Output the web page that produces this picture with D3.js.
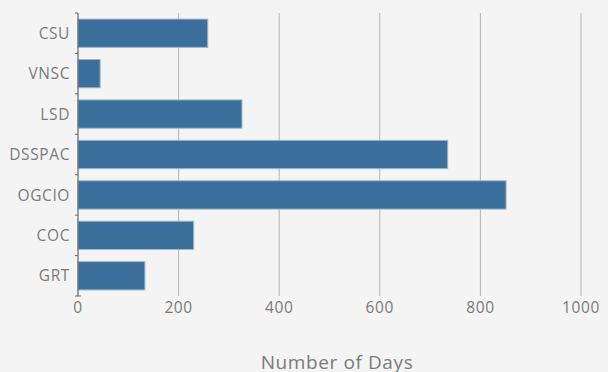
<!doctype html>
<html>
<head>
<meta charset="utf-8" />
<title>Number of Days</title>
<script src="https://cdn.jsdelivr.net/npm/d3@7/dist/d3.min.js"></script>
<style>
  html, body { margin: 0; padding: 0; background: #f4f4f4; }
  svg { display: block; font-family: "Open Sans", sans-serif; }
  .lbl { fill: #7a7a7a; letter-spacing: 0.6px; }
</style>
</head>
<body>
<svg id="chart" width="608" height="372"></svg>
<script>
var departments = ['CSU', 'VNSC', 'LSD', 'DSSPAC', 'OGCIO', 'COC', 'GRT'];
var days = [258, 44, 326, 735, 851, 230, 133];
var xTicks = [0, 200, 400, 600, 800, 1000];

var svg = d3.select('#chart');
var m = { left: 78, right: 581, top: 13, bottom: 296 };

var x = d3.scaleLinear().domain([0, 1000]).range([m.left, m.right]);
var y = d3.scaleBand().domain(departments).range([m.top, m.bottom])
    .paddingInner(0.3).paddingOuter(0.15);

// grid lines
svg.append('g').selectAll('line')
    .data(xTicks.slice(1))
    .enter().append('line')
    .attr('x1', function(d) { return x(d); })
    .attr('x2', function(d) { return x(d); })
    .attr('y1', m.top)
    .attr('y2', m.bottom)
    .attr('stroke', '#b4b4b4')
    .attr('stroke-width', 1);

// bars
svg.append('g').selectAll('rect')
    .data(departments)
    .enter().append('rect')
    .attr('x', x(0))
    .attr('y', function(d) { return y(d); })
    .attr('width', function(d, i) { return x(days[i]) - x(0); })
    .attr('height', y.bandwidth())
    .attr('fill', '#3a6f9b')
    .attr('stroke', '#9fb6ca')
    .attr('stroke-width', 1);

// y axis line and ticks at band edges
var edges = departments.map(function(d) { return y(d) - y.step() * y.paddingInner() / 2; });
edges.push(m.bottom);
var yg = svg.append('g');
yg.append('line')
    .attr('x1', m.left).attr('x2', m.left)
    .attr('y1', m.top).attr('y2', m.bottom)
    .attr('stroke', '#666').attr('stroke-width', 1.2);
yg.selectAll('line.tick')
    .data(edges)
    .enter().append('line')
    .attr('class', 'tick')
    .attr('x1', m.left - 3).attr('x2', m.left)
    .attr('y1', function(d) { return d; })
    .attr('y2', function(d) { return d; })
    .attr('stroke', '#666');
yg.append('line')
    .attr('x1', m.left).attr('x2', m.left + 3)
    .attr('y1', m.bottom).attr('y2', m.bottom)
    .attr('stroke', '#666');

yg.selectAll('text')
    .data(departments)
    .enter().append('text')
    .attr('class', 'lbl')
    .attr('x', 70)
    .attr('y', function(d) { return y(d) + y.bandwidth() / 2; })
    .attr('dy', '0.36em')
    .attr('text-anchor', 'end')
    .attr('font-size', 15.5)
    .text(function(d) { return d; });

// x tick labels
svg.append('g').selectAll('text')
    .data(xTicks)
    .enter().append('text')
    .attr('class', 'lbl')
    .attr('x', function(d) { return x(d); })
    .attr('y', 313)
    .attr('text-anchor', 'middle')
    .attr('font-size', 15.5)
    .text(function(d) { return d; });

svg.append('text')
    .attr('class', 'lbl')
    .attr('x', 337)
    .attr('y', 369)
    .attr('text-anchor', 'middle')
    .attr('font-size', 19)
    .text('Number of Days');
</script>
</body>
</html>
